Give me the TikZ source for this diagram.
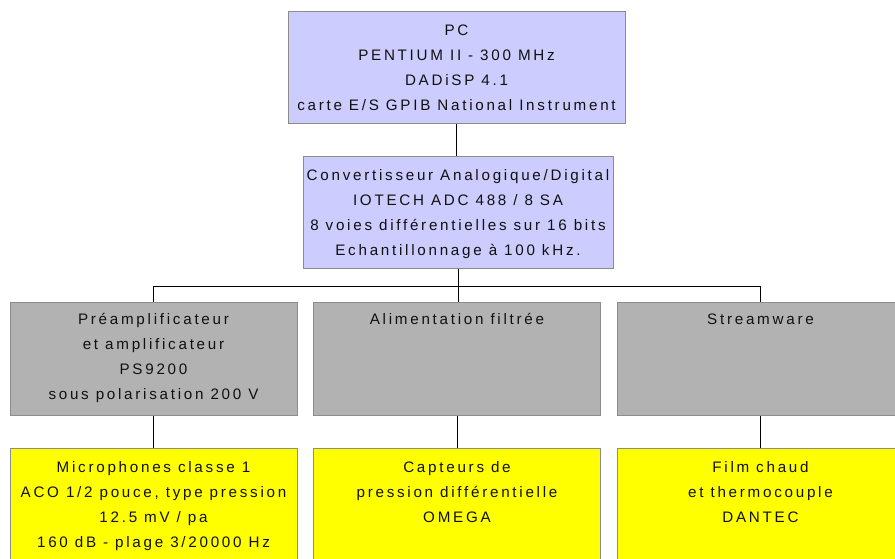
\documentclass[tikz,border=0pt]{standalone}
\usepackage{fontspec}
\setmainfont{Liberation Sans}[LetterSpace=18]
\definecolor{lav}{HTML}{CCCCFF}
\definecolor{gbox}{HTML}{B2B2B2}
\definecolor{ybox}{HTML}{FFFF00}
\definecolor{bord}{HTML}{8C8C8C}
\definecolor{txt}{HTML}{111111}
\begin{document}
\begin{tikzpicture}[x=1pt,y=-1pt,
  box/.style={draw=bord,line width=1pt,inner sep=0pt,minimum width=#1},
  pcbox/.style={box=#1,fill=lav,minimum height=112pt},
  graybox/.style={box=287pt,fill=gbox,minimum height=113pt},
  yelbox/.style={box=287pt,fill=ybox,minimum height=113pt},
  lbl/.style={anchor=base,align=center,inner sep=0pt,text=txt,font=\fontsize{15.2}{25}\selectfont},
  conn/.style={draw=black,line width=1pt}]
\useasboundingbox (0,0) rectangle (895,558);
\begin{scope}
\clip (0,0) rectangle (895,558);
\node[pcbox=337pt] (pc) at (456.5,67) {};
\node[pcbox=310pt] (conv) at (458,212) {};
\node[graybox] (pre) at (153.5,358.5) {};
\node[graybox] (alim) at (457,358.5) {};
\node[graybox] (stream) at (760.5,358.5) {};
\node[yelbox] (micro) at (153.5,504.5) {};
\node[yelbox] (capt) at (457,504.5) {};
\node[yelbox] (film) at (760.5,504.5) {};
\coordinate (bus) at (457,286);
\draw[conn] (pc.south) -- (pc.south |- conv.north);
\draw[conn] (conv.south) -- (conv.south |- alim.north);
\draw[conn] (pre.north |- bus) -- (stream.north |- bus);
\draw[conn] (pre.north |- bus) -- (pre.north);
\draw[conn] (stream.north |- bus) -- (stream.north);
\draw[conn] (pre.south) -- (micro.north);
\draw[conn] (alim.south) -- (capt.north);
\draw[conn] (stream.south) -- (film.north);
\node[lbl] (pct) at ([yshift=-100pt]pc.north) {PC\\PENTIUM II - 300 MHz\\DADiSP 4.1\\carte E/S GPIB National Instrument};
\node[lbl] (convt) at ([yshift=-100pt]conv.north) {Convertisseur Analogique/Digital\\IOTECH ADC 488 / 8 SA\\8 voies différentielles sur 16 bits\\Echantillonnage à 100 kHz.};
\node[lbl] (pret) at ([yshift=-98pt]pre.north) {Préamplificateur\\et amplificateur\\PS9200\\sous polarisation 200 V};
\node[lbl] (alimt) at ([yshift=-23pt]alim.north) {Alimentation filtrée};
\node[lbl] (streamt) at ([yshift=-23pt]stream.north) {Streamware};
\node[lbl] (microt) at ([yshift=-100pt]micro.north) {Microphones classe 1\\ACO 1/2 pouce, type pression\\12.5 mV / pa\\160 dB - plage 3/20000 Hz};
\node[lbl] (captt) at ([yshift=-75pt]capt.north) {Capteurs de\\pression différentielle\\OMEGA};
\node[lbl] (filmt) at ([yshift=-75pt]film.north) {Film chaud\\et thermocouple\\DANTEC};
\end{scope}
\end{tikzpicture}
\end{document}
